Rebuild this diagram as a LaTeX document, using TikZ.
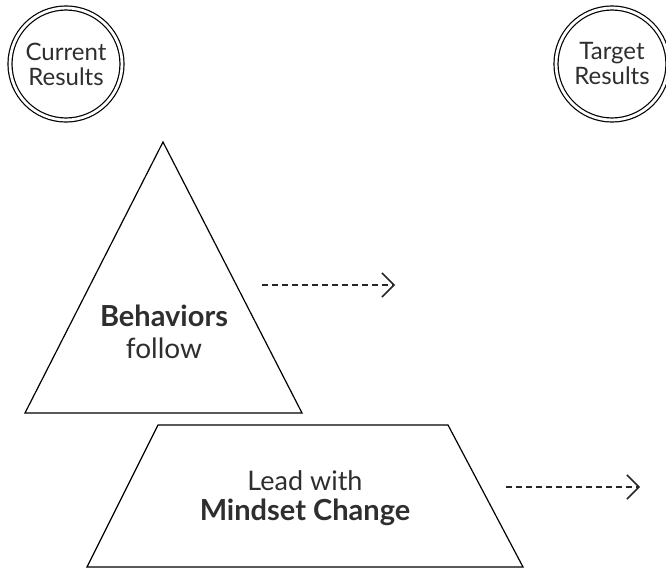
\documentclass[tikz,border=0pt]{standalone}
\usepackage{fontspec}
\setmainfont{Lato}
\usetikzlibrary{arrows.meta}
\definecolor{txtgray}{rgb}{0.18,0.18,0.18}
\newcommand{\boldline}[1]{{\fontsize{29}{32}\selectfont\textbf{#1}}}

\begin{document}
\begin{tikzpicture}[x=1pt,y=-1pt,
  results/.style={circle,draw=black,line width=1.2pt,double=white,double distance=2.8pt,
    minimum size=112pt,inner sep=0pt,align=center,text=txtgray,font=\fontsize{24}{25}\selectfont},
  shapetext/.style={align=center,text=txtgray,inner sep=0pt},
  outline/.style={draw=black,line width=1.2pt,line join=miter},
  flow/.style={draw=black!85,line width=1.5pt,dash pattern=on 6pt off 4pt,
    -{Straight Barb[length=12pt,width=24pt,line width=1.5pt]}}]
\useasboundingbox (0,0) rectangle (666,569);
\node[results] (current) at (66,64) {Current\\Results};
\node[results] (target) at (612,64) {Target\\Results};
\draw[outline] (163,142) -- (302,413) -- (25,413) -- cycle;
\node[shapetext,font=\fontsize{28}{32}\selectfont] (behav) at (164,332) {\boldline{Behaviors}\\follow};
\draw[outline] (87,567) -- (158,425) -- (448,425) -- (523,567) -- cycle;
\node[shapetext,font=\fontsize{27}{30}\selectfont] (mindset) at (305,498) {Lead with\\\boldline{Mindset Change}};
\coordinate (behavstart) at (262,285);
\coordinate (behavend) at (395,285);
\coordinate (mindstart) at (506,487);
\coordinate (mindend) at (640,487);
\draw[flow] (behavstart) -- (behavend);
\draw[flow] (mindstart) -- (mindend);
\end{tikzpicture}
\end{document}
